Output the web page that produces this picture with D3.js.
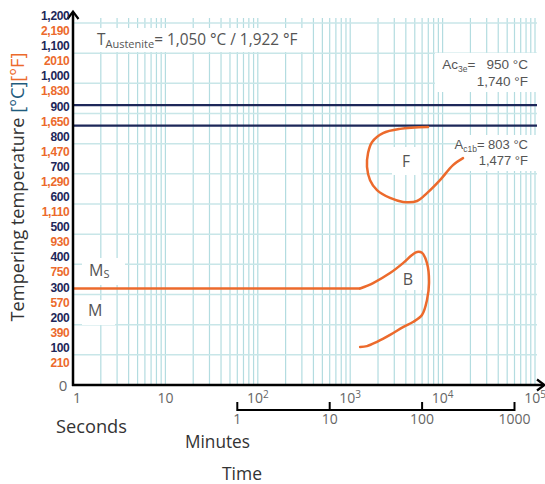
<!DOCTYPE html>
<html><head><meta charset="utf-8">
<script src="https://cdn.jsdelivr.net/npm/d3@7"></script>
<style>body{margin:0;background:#fff} svg{display:block}</style>
</head><body><svg id="c" width="545" height="484" font-family="'Open Sans', sans-serif"></svg>
<script>
// ---- data ----
const tempTicksC = [0,100,200,300,400,500,600,700,800,900,1000,1100,1200];
const tempLabelsC = ["0","100","200","300","400","500","600","700","800","900","1,000","1,100","1,200"];
const tempLabelsF = ["","210","390","570","750","930","1,110","1,290","1,470","1,650","1,830","2010","2,190"];
const secondTicks = [1,10,100,1000,10000,100000];
const secondBase = ["1","10","10","10","10","10"];
const secondExp = ["","","2","3","4","5"];
const minuteTicks = [1,10,100,1000];
const minuteLabels = ["1","10","100","1000"];
const msTemp = 320;
const msTimes = [1, 1280];
const ac3eTemp = 928;
const ac1bTemp = 860;
const bainiteTime = [1280,1770,2700,3730,4670,5290,5980,6780,7130,6780,5980,4780,3730,2700,1950,1520,1280];
const bainiteTemp = [320,338,371,404,431,441,438,404,338,282,232,209,192,166,143,129,126];
const ferriteTime = [6950,3460,2265,1720,1560,1520,1640,1950,2700,3730,5290,6780,9370,12960,16630];
const ferriteTemp = [855,849,835,805,769,723,679,646,620,607,610,636,679,729,752];

// ---- scales ----
const x = d3.scaleLog().domain([1,1e5]).range([73,535]);
const y = d3.scaleLinear().domain([0,1200]).range([385,23]);
const svg = d3.select("#c");
const NAVY="#1d2759", ORANGE="#ec6a2c", GRAY="#555", GRID="#b3dce0", GRIDH="#c8e6e8";

function fit(sel, w){ const n=sel.node(); const fs=parseFloat(sel.attr("font-size")); const cw=n.getComputedTextLength(); sel.attr("font-size", fs*w/cw); }

// grid
const vg = [];
for (let k=0;k<5;k++) for (let m=1;m<10;m++) vg.push(m*Math.pow(10,k));
vg.push(1e5);
svg.append("g").selectAll("line").data(vg).join("line")
  .attr("x1",d=>x(d)).attr("x2",d=>x(d)).attr("y1",18).attr("y2",385)
  .attr("stroke",GRID).attr("stroke-width",1.2);
svg.append("g").selectAll("line").data(tempTicksC.slice(1)).join("line")
  .attr("x1",73).attr("x2",537).attr("y1",d=>y(d)).attr("y2",d=>y(d))
  .attr("stroke",GRIDH).attr("stroke-width",1.5);

// white label boxes
const boxes = [[88,28,217,24],[435,53,102,39],[458,135,79,36],[392,147,29,28],[395,265,27,25],[82,258,43,27],[82,300,33,25]];
svg.append("g").selectAll("rect").data(boxes).join("rect")
  .attr("x",d=>d[0]).attr("y",d=>d[1]).attr("width",d=>d[2]).attr("height",d=>d[3]).attr("fill","#fff");

// critical temperature lines
svg.append("g").selectAll("line").data([ac3eTemp,ac1bTemp]).join("line")
  .attr("x1",x(1)).attr("x2",x(1e5)+2).attr("y1",d=>y(d)).attr("y2",d=>y(d))
  .attr("stroke",NAVY).attr("stroke-width",2.2);

// curves
const line = d3.line().x(d=>x(d[0])).y(d=>y(d[1])).curve(d3.curveCatmullRom.alpha(0.5));
svg.append("path").attr("d", line(msTimes.map(t=>[t,msTemp]))).attr("fill","none").attr("stroke",ORANGE).attr("stroke-width",2.5);
svg.append("path").attr("d", line(bainiteTime.map((t,i)=>[t,bainiteTemp[i]]))).attr("fill","none").attr("stroke",ORANGE).attr("stroke-width",2.5).attr("stroke-linecap","round");
svg.append("path").attr("d", line(ferriteTime.map((t,i)=>[t,ferriteTemp[i]]))).attr("fill","none").attr("stroke",ORANGE).attr("stroke-width",2.5).attr("stroke-linecap","round");

// axes
svg.append("line").attr("x1",73).attr("x2",73).attr("y1",386).attr("y2",12).attr("stroke","#000").attr("stroke-width",2.5);
svg.append("path").attr("d","M67.5,19 L73,11.5 L78.5,19").attr("fill","none").attr("stroke","#000").attr("stroke-width",2.2);
svg.append("line").attr("x1",72).attr("x2",543).attr("y1",385).attr("y2",385).attr("stroke","#000").attr("stroke-width",2.5);
svg.append("path").attr("d","M537,379.5 L544.5,385 L537,390.5").attr("fill","none").attr("stroke","#000").attr("stroke-width",2.2);

// y tick labels
const gy = svg.append("g").attr("font-family","'Liberation Sans', Arial, sans-serif").attr("font-weight",700).attr("font-size",12).attr("letter-spacing","-0.3").attr("text-anchor","end");
tempTicksC.forEach((v,i)=>{
  if (i===0) return;
  gy.append("text").attr("x",69.5).attr("y",y(v)-3).attr("fill",NAVY).text(tempLabelsC[i]);
  gy.append("text").attr("x",69.5).attr("y",y(v)+12).attr("fill",ORANGE).text(tempLabelsF[i]);
});
svg.append("text").attr("x",63).attr("y",y(0)+5.5).attr("text-anchor","middle").attr("font-size",15).attr("fill","#666").text(tempLabelsC[0]);

// seconds tick labels
const gx = svg.append("g").attr("font-size",14).attr("fill","#666").attr("text-anchor","middle");
secondTicks.forEach((v,i)=>{
  const t = gx.append("text").attr("x",x(v)+(i===0?4:0)).attr("y",403);
  t.append("tspan").text(secondBase[i]);
  if (secondExp[i]) t.append("tspan").attr("font-size",10).attr("dy",-5).text(secondExp[i]);
});

// minutes bracket
const xm = m => x(m*60);
svg.append("line").attr("x1",xm(1)).attr("x2",xm(1000)).attr("y1",410).attr("y2",410).attr("stroke","#000").attr("stroke-width",2);
svg.append("g").selectAll("line").data(minuteTicks).join("line")
  .attr("x1",d=>xm(d)).attr("x2",d=>xm(d)).attr("y1",402).attr("y2",411).attr("stroke","#000").attr("stroke-width",2);
svg.append("g").attr("font-size",14).attr("fill","#666").attr("text-anchor","middle")
  .selectAll("text").data(minuteTicks).join("text").attr("x",d=>xm(d)).attr("y",424).text((d,i)=>minuteLabels[i]);

// axis titles
const sec = svg.append("text").attr("x",56).attr("y",433).attr("font-size",18).attr("fill","#333").text("Seconds"); fit(sec,71);
const mins = svg.append("text").attr("x",185).attr("y",448).attr("font-size",18).attr("fill","#333").text("Minutes"); fit(mins,65);
const tim = svg.append("text").attr("x",222).attr("y",480).attr("font-size",18).attr("fill","#333").text("Time"); fit(tim,40);
const yt = svg.append("text").attr("transform","translate(24,187) rotate(-90)").attr("text-anchor","middle").attr("font-size",17).attr("fill","#333");
yt.append("tspan").text("Tempering temperature ");
yt.append("tspan").attr("fill","#1f5c7e").text("[°C]");
yt.append("tspan").attr("fill",ORANGE).text("[°F]");
fit(yt,269);

// annotations
const tt = svg.append("text").attr("x",97).attr("y",45).attr("font-size",17).attr("fill",GRAY);
tt.append("tspan").text("T");
tt.append("tspan").attr("font-size",11).attr("dy",3).text("Austenite");
tt.append("tspan").attr("dy",-3).text("= 1,050 °C / 1,922 °F");
fit(tt,196);

const AF = "'Liberation Sans', Arial, sans-serif";
const a3 = svg.append("text").attr("x",528).attr("y",69).attr("font-family",AF).attr("font-size",13.5).attr("fill",GRAY).attr("text-anchor","end");
a3.append("tspan").text("Ac");
a3.append("tspan").attr("font-size",8.5).attr("dy",3).text("3e");
a3.append("tspan").attr("dy",-3).text("=\u00a0\u00a0 950 °C");
svg.append("text").attr("x",528).attr("y",85.5).attr("font-family",AF).attr("font-size",13.5).attr("fill",GRAY).attr("text-anchor","end").text("1,740 °F");

const a1 = svg.append("text").attr("x",528).attr("y",149).attr("font-family",AF).attr("font-size",13).attr("fill",GRAY).attr("text-anchor","end");
a1.append("tspan").text("A");
a1.append("tspan").attr("font-size",8.5).attr("dy",3).text("c1b");
a1.append("tspan").attr("dy",-3).text("= 803 °C");
svg.append("text").attr("x",528).attr("y",164.5).attr("font-family",AF).attr("font-size",13).attr("fill",GRAY).attr("text-anchor","end").text("1,477 °F");

svg.append("text").attr("x",406).attr("y",167).attr("font-size",15.5).attr("fill",GRAY).attr("text-anchor","middle").text("F");
svg.append("text").attr("x",408).attr("y",285).attr("font-size",16).attr("fill",GRAY).attr("text-anchor","middle").text("B");
const msT = svg.append("text").attr("x",89).attr("y",276).attr("font-size",16).attr("fill",GRAY);
msT.append("tspan").text("M"); msT.append("tspan").attr("font-size",11).attr("dy",2).text("S");
svg.append("text").attr("x",88).attr("y",316).attr("font-size",16).attr("fill",GRAY).text("M");
</script></body></html>
